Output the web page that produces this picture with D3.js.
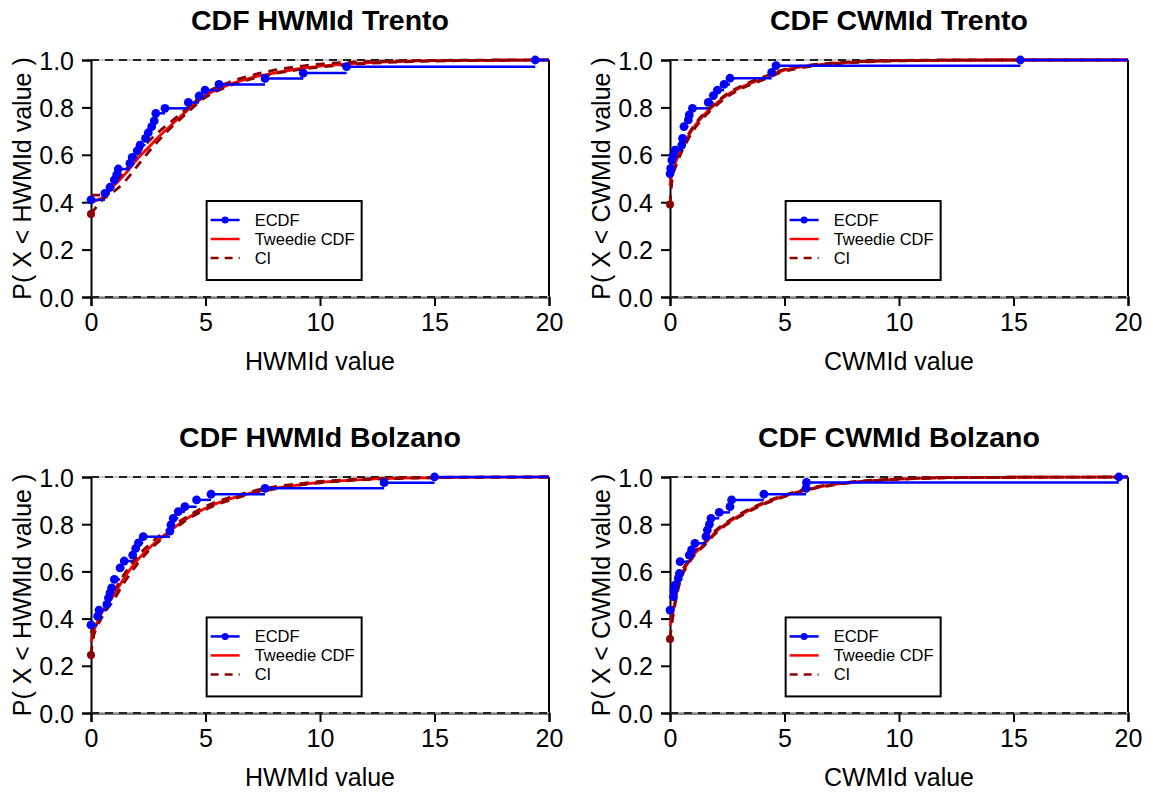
<!DOCTYPE html>
<html>
<head>
<meta charset="utf-8">
<script src="https://cdn.jsdelivr.net/npm/d3@7"></script>
<style>
  body { margin: 0; background: #fff; }
  svg { font-family: "Liberation Sans", Arial, Helvetica, sans-serif; }
</style>
</head>
<body>
<svg id="chart" width="1153" height="794"></svg>
<script>
var W = 1153, H = 794;

// ---- data ----
var xTicks = [0, 5, 10, 15, 20];
var yTicks = [0, 0.2, 0.4, 0.6, 0.8, 1.0];
var legendLabels = ["ECDF", "Tweedie CDF", "CI"];

// HWMId Trento
var hwTrentoEcdfX = [0, 0.61, 0.83, 1.02, 1.12, 1.19, 1.70, 1.80, 2.02, 2.14, 2.38, 2.50, 2.65, 2.76, 2.83, 3.23, 4.25, 4.72, 4.98, 5.59, 7.60, 9.27, 11.16, 19.4];
var hwTrentoEcdfY = [0.41, 0.437, 0.463, 0.494, 0.515, 0.540, 0.564, 0.589, 0.617, 0.641, 0.669, 0.693, 0.719, 0.743, 0.775, 0.796, 0.821, 0.848, 0.873, 0.897, 0.922, 0.945, 0.972, 1.0];
var hwTrentoGrid = [0, 0.5, 1, 1.5, 2, 2.5, 3, 3.5, 4, 5, 6, 7, 8, 9, 10, 12, 14, 16, 18, 20];
var hwTrentoCdf  = [0.40, 0.42, 0.47, 0.52, 0.58, 0.63, 0.68, 0.725, 0.77, 0.85, 0.895, 0.925, 0.945, 0.962, 0.974, 0.988, 0.995, 0.998, 0.999, 1.0];
var hwTrentoLo   = [0.35, 0.41, 0.445, 0.49, 0.55, 0.61, 0.665, 0.715, 0.76, 0.842, 0.89, 0.92, 0.942, 0.958, 0.97, 0.985, 0.993, 0.997, 0.999, 1.0];
var hwTrentoHi   = [0.43, 0.43, 0.48, 0.535, 0.60, 0.655, 0.70, 0.74, 0.78, 0.86, 0.905, 0.935, 0.957, 0.972, 0.983, 0.993, 0.997, 0.999, 1.0, 1.0];

// CWMId Trento
var cwTrentoEcdfX = [0, 0.03, 0.08, 0.15, 0.22, 0.51, 0.55, 0.61, 0.80, 0.84, 0.98, 1.67, 1.89, 2.07, 2.36, 2.62, 4.44, 4.63, 15.3];
var cwTrentoEcdfY = [0.52, 0.543, 0.578, 0.599, 0.620, 0.641, 0.669, 0.719, 0.747, 0.768, 0.796, 0.821, 0.850, 0.873, 0.897, 0.923, 0.948, 0.976, 1.0];
var cwTrentoGrid = [0, 0.1, 0.25, 0.5, 0.75, 1, 1.5, 2, 2.5, 3, 4, 5, 6, 7, 8, 10, 12, 15, 20];
var cwTrentoCdf  = [0.47, 0.53, 0.57, 0.625, 0.67, 0.71, 0.77, 0.815, 0.853, 0.88, 0.92, 0.957, 0.975, 0.985, 0.991, 0.997, 0.999, 1.0, 1.0];
var cwTrentoLo   = [0.39, 0.50, 0.55, 0.61, 0.658, 0.70, 0.76, 0.806, 0.845, 0.873, 0.914, 0.952, 0.971, 0.982, 0.989, 0.996, 0.999, 1.0, 1.0];
var cwTrentoHi   = [0.50, 0.55, 0.585, 0.635, 0.678, 0.717, 0.776, 0.82, 0.858, 0.885, 0.925, 0.961, 0.978, 0.987, 0.993, 0.998, 1.0, 1.0, 1.0];

// HWMId Bolzano
var hwBolzanoEcdfX = [0, 0.29, 0.35, 0.69, 0.76, 0.83, 0.90, 1.02, 1.27, 1.45, 1.82, 1.95, 2.07, 2.28, 3.45, 3.49, 3.59, 3.81, 4.10, 4.61, 5.24, 7.60, 12.8, 15.0];
var hwBolzanoEcdfY = [0.373, 0.41, 0.436, 0.460, 0.488, 0.509, 0.530, 0.566, 0.615, 0.644, 0.669, 0.697, 0.721, 0.747, 0.771, 0.797, 0.825, 0.853, 0.874, 0.903, 0.927, 0.952, 0.976, 1.0];
var hwBolzanoGrid = [0, 0.1, 0.25, 0.5, 1, 1.5, 2, 2.5, 3, 3.5, 4, 5, 6, 7, 8, 9, 10, 12, 14, 16, 20];
var hwBolzanoCdf  = [0.30, 0.34, 0.38, 0.43, 0.50, 0.58, 0.645, 0.695, 0.738, 0.775, 0.812, 0.868, 0.905, 0.933, 0.952, 0.966, 0.977, 0.99, 0.996, 0.998, 1.0];
var hwBolzanoLo   = [0.246, 0.32, 0.36, 0.41, 0.48, 0.56, 0.628, 0.685, 0.73, 0.77, 0.806, 0.862, 0.90, 0.929, 0.949, 0.964, 0.975, 0.989, 0.995, 0.998, 1.0];
var hwBolzanoHi   = [0.34, 0.36, 0.395, 0.445, 0.515, 0.595, 0.66, 0.71, 0.752, 0.787, 0.82, 0.875, 0.912, 0.939, 0.958, 0.971, 0.981, 0.992, 0.997, 0.999, 1.0];

// CWMId Bolzano
var cwBolzanoEcdfX = [0, 0.15, 0.17, 0.22, 0.36, 0.41, 0.44, 0.84, 0.94, 1.09, 1.57, 1.63, 1.72, 1.79, 2.15, 2.62, 2.69, 4.10, 5.94, 5.96, 19.6];
var cwBolzanoEcdfY = [0.436, 0.493, 0.521, 0.542, 0.570, 0.591, 0.641, 0.669, 0.691, 0.719, 0.747, 0.775, 0.799, 0.825, 0.850, 0.874, 0.903, 0.927, 0.952, 0.977, 1.0];
var cwBolzanoGrid = [0, 0.1, 0.25, 0.5, 0.75, 1, 1.5, 2, 2.5, 3, 4, 5, 6, 7, 8, 10, 12, 15, 20];
var cwBolzanoCdf  = [0.37, 0.41, 0.49, 0.585, 0.63, 0.667, 0.716, 0.768, 0.805, 0.835, 0.884, 0.92, 0.948, 0.966, 0.978, 0.991, 0.997, 0.999, 1.0];
var cwBolzanoLo   = [0.314, 0.39, 0.475, 0.575, 0.622, 0.66, 0.71, 0.762, 0.80, 0.83, 0.88, 0.917, 0.945, 0.964, 0.976, 0.99, 0.996, 0.999, 1.0];
var cwBolzanoHi   = [0.42, 0.43, 0.505, 0.595, 0.638, 0.674, 0.722, 0.774, 0.81, 0.84, 0.888, 0.923, 0.951, 0.968, 0.98, 0.992, 0.997, 0.999, 1.0];

var panels = [
  { title: "CDF HWMId Trento", xlab: "HWMId value", ylab: "P( X < HWMId value )",
    left: 91, top: 60, bottom: 297,
    ex: hwTrentoEcdfX, ey: hwTrentoEcdfY, grid: hwTrentoGrid, cdf: hwTrentoCdf, lo: hwTrentoLo, hi: hwTrentoHi },
  { title: "CDF CWMId Trento", xlab: "CWMId value", ylab: "P( X < CWMId value )",
    left: 670, top: 60, bottom: 297,
    ex: cwTrentoEcdfX, ey: cwTrentoEcdfY, grid: cwTrentoGrid, cdf: cwTrentoCdf, lo: cwTrentoLo, hi: cwTrentoHi },
  { title: "CDF HWMId Bolzano", xlab: "HWMId value", ylab: "P( X < HWMId value )",
    left: 91, top: 477, bottom: 713,
    ex: hwBolzanoEcdfX, ey: hwBolzanoEcdfY, grid: hwBolzanoGrid, cdf: hwBolzanoCdf, lo: hwBolzanoLo, hi: hwBolzanoHi },
  { title: "CDF CWMId Bolzano", xlab: "CWMId value", ylab: "P( X < CWMId value )",
    left: 670, top: 477, bottom: 713,
    ex: cwBolzanoEcdfX, ey: cwBolzanoEcdfY, grid: cwBolzanoGrid, cdf: cwBolzanoCdf, lo: cwBolzanoLo, hi: cwBolzanoHi }
];

var svg = d3.select("#chart");
svg.append("rect").attr("width", W).attr("height", H).attr("fill", "#fff");

function drawPanel(p) {
  var plotW = 458;
  var x = d3.scaleLinear().domain([0, 20]).range([p.left, p.left + plotW]);
  var y = d3.scaleLinear().domain([0, 1]).range([p.bottom, p.top]);
  var g = svg.append("g");
  var cx = p.left + plotW / 2;

  // title + labels
  g.append("text").attr("x", cx).attr("y", p.top - 30)
    .attr("text-anchor", "middle").attr("font-weight", "bold").attr("font-size", 28.5)
    .text(p.title);
  g.append("text").attr("x", cx).attr("y", p.bottom + 73)
    .attr("text-anchor", "middle").attr("font-size", 25).text(p.xlab);
  g.append("text")
    .attr("transform", "translate(" + (p.left - 60) + "," + ((p.top + p.bottom) / 2) + ") rotate(-90)")
    .attr("text-anchor", "middle").attr("font-size", 25).text(p.ylab);

  // frame: vertical at x=20
  g.append("line").attr("x1", x(20)).attr("x2", x(20)).attr("y1", y(0)).attr("y2", y(1))
    .attr("stroke", "#000").attr("stroke-width", 2);

  // axes
  var xAxis = d3.axisBottom(x).tickValues(xTicks).tickSize(9).tickPadding(6).tickFormat(d3.format("d"));
  var yAxis = d3.axisLeft(y).tickValues(yTicks).tickSize(9).tickPadding(8).tickFormat(d3.format(".1f"));
  var gx = g.append("g").attr("transform", "translate(0," + p.bottom + ")").call(xAxis);
  var gy = g.append("g").attr("transform", "translate(" + p.left + ",0)").call(yAxis);
  [gx, gy].forEach(function (a) {
    a.select(".domain").attr("stroke", "#000").attr("stroke-width", 2);
    a.selectAll(".tick line").attr("stroke", "#000").attr("stroke-width", 2);
    a.selectAll(".tick text").attr("font-size", 25).attr("fill", "#000")
      .style("font-family", "'Liberation Sans', Arial, sans-serif");
  });
  gy.selectAll(".tick text").attr("dy", "0.36em");
  gx.selectAll(".tick text").attr("dy", "0.76em");

  // reference lines at 0 and 1
  [0, 1].forEach(function (v) {
    g.append("line").attr("x1", x(0)).attr("x2", x(20)).attr("y1", y(v)).attr("y2", y(v))
      .attr("stroke", "#bbb").attr("stroke-width", 1.5);
    g.append("line").attr("x1", x(0)).attr("x2", x(20)).attr("y1", y(v)).attr("y2", y(v))
      .attr("stroke", "#222").attr("stroke-width", 2).attr("stroke-dasharray", "8,6");
  });

  // Tweedie CDF and CI curves
  var curve = function (vals) {
    return d3.line().x(function (d, i) { return x(p.grid[i]); })
      .y(function (d) { return y(d); }).curve(d3.curveMonotoneX)(vals);
  };
  g.append("path").attr("d", curve(p.cdf)).attr("fill", "none")
    .attr("stroke", "#ff0000").attr("stroke-width", 2.8);
  [p.lo, p.hi].forEach(function (arr) {
    g.append("path").attr("d", curve(arr)).attr("fill", "none")
      .attr("stroke", "#8b0000").attr("stroke-width", 2.8).attr("stroke-dasharray", "9,7");
  });
  g.append("circle").attr("cx", x(0)).attr("cy", y(p.lo[0])).attr("r", 4).attr("fill", "#8b0000");

  // ECDF steps
  var steps = p.ex.map(function (v, i) {
    return { x0: v, x1: i < p.ex.length - 1 ? p.ex[i + 1] : 20, y: p.ey[i] };
  });
  g.selectAll(null).data(steps).join("line")
    .attr("x1", function (d) { return x(d.x0); })
    .attr("x2", function (d) { return x(d.x1); })
    .attr("y1", function (d) { return y(d.y); })
    .attr("y2", function (d) { return y(d.y); })
    .attr("stroke", "#0000ff").attr("stroke-width", 2.5);
  g.selectAll(null).data(steps).join("circle")
    .attr("cx", function (d) { return x(d.x0); })
    .attr("cy", function (d) { return y(d.y); })
    .attr("r", 4.4).attr("fill", "#0000ff");

  // legend
  var lx = x(5.05), ly = y(0.405);
  var lg = g.append("g").attr("transform", "translate(" + lx + "," + ly + ")");
  lg.append("rect").attr("width", 155).attr("height", 79)
    .attr("fill", "#fff").attr("stroke", "#000").attr("stroke-width", 2);
  var rows = [19, 38, 57];
  lg.append("line").attr("x1", 4).attr("x2", 33).attr("y1", rows[0]).attr("y2", rows[0])
    .attr("stroke", "#0000ff").attr("stroke-width", 2.5);
  lg.append("circle").attr("cx", 18.5).attr("cy", rows[0]).attr("r", 3.5).attr("fill", "#0000ff");
  lg.append("line").attr("x1", 4).attr("x2", 33).attr("y1", rows[1]).attr("y2", rows[1])
    .attr("stroke", "#ff0000").attr("stroke-width", 2.5);
  lg.append("line").attr("x1", 4).attr("x2", 33).attr("y1", rows[2]).attr("y2", rows[2])
    .attr("stroke", "#8b0000").attr("stroke-width", 2.5).attr("stroke-dasharray", "8,6");
  lg.selectAll("text.leg").data(legendLabels).join("text")
    .attr("class", "leg")
    .attr("x", 48).attr("y", function (d, i) { return rows[i]; })
    .attr("dy", "0.36em").attr("font-size", 16.5).text(function (d) { return d; });
}

panels.forEach(drawPanel);
</script>
</body>
</html>
